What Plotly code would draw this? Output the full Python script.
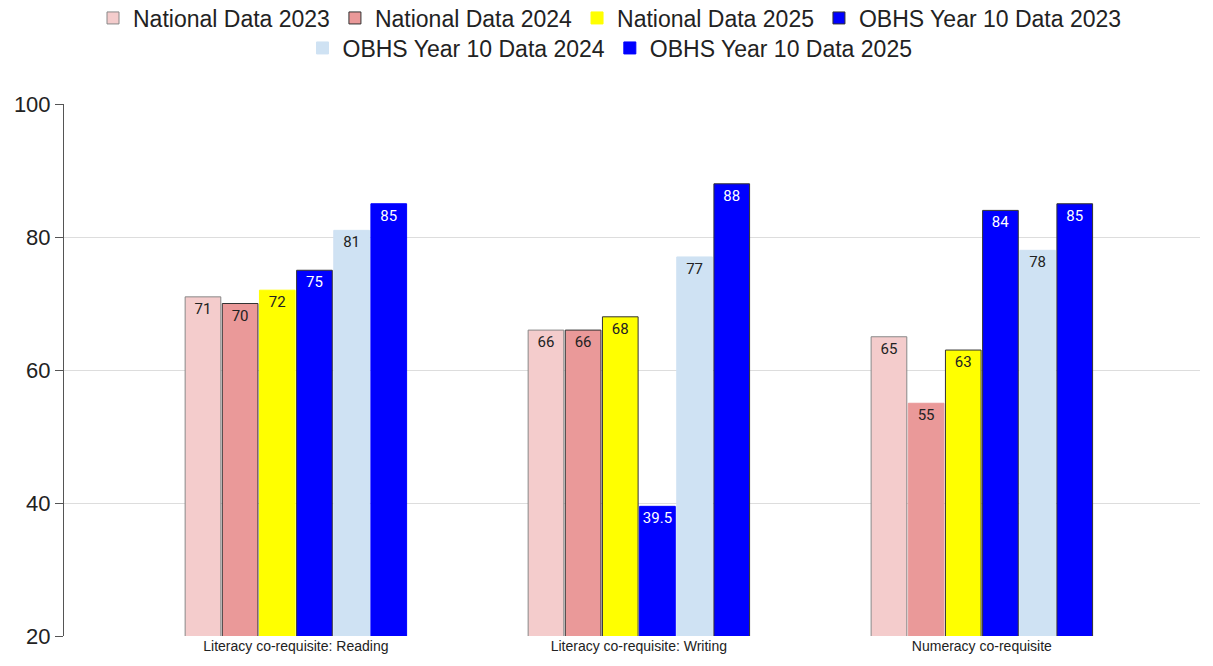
import plotly.graph_objects as go

categories = ["Literacy co-requisite: Reading", "Literacy co-requisite: Writing", "Numeracy co-requisite"]
series_names = ["National Data 2023", "National Data 2024", "National Data 2025",
                "OBHS Year 10 Data 2023", "OBHS Year 10 Data 2024", "OBHS Year 10 Data 2025"]
national_2023 = [71, 66, 65]
national_2024 = [70, 66, 55]
national_2025 = [72, 68, 63]
obhs_2023 = [75, 39.5, 84]
obhs_2024 = [81, 77, 78]
obhs_2025 = [85, 88, 85]
values = [national_2023, national_2024, national_2025, obhs_2023, obhs_2024, obhs_2025]

colors = ["#f4cccc", "#ea9999", "#ffff00", "#0000ff", "#cfe2f3", "#0000ff"]
text_colors = ["#222222", "#222222", "#222222", "#ffffff", "#222222", "#ffffff"]
line_colors = [
    ["#888888", "#888888", "#888888"],
    ["#333333", "#333333", "#ea9999"],
    ["#ffff00", "#333333", "#333333"],
    ["#333333", "#0000ff", "#333333"],
    ["#cfe2f3", "#cfe2f3", "#cfe2f3"],
    ["#0000ff", "#333333", "#333333"],
]
legend_rows = ["legend", "legend", "legend", "legend", "legend2", "legend2"]

fig = go.Figure()
for name, vals, c, tc, lc, lg in zip(series_names, values, colors, text_colors, line_colors, legend_rows):
    fig.add_trace(go.Bar(
        name=name, x=categories, y=vals, legend=lg,
        marker=dict(color=c, line=dict(color=lc, width=1)),
        text=[str(v) for v in vals], textposition="inside", insidetextanchor="end",
        textangle=0,
        textfont=dict(family="Roboto, Arial, sans-serif", size=15, color=tc),
        cliponaxis=False,
    ))

legend_style = dict(orientation="h", x=0.5, xanchor="center", yref="container", yanchor="middle",
                    xref="container",
                    font=dict(family="Liberation Sans, Arial, sans-serif", size=23, color="#222222"),
                    itemwidth=30, traceorder="normal", bgcolor="rgba(0,0,0,0)")

fig.update_layout(
    width=1213, height=666,
    barmode="group", bargap=0.35, bargroupgap=0.04,
    paper_bgcolor="white", plot_bgcolor="white",
    margin=dict(l=64, r=13, t=104, b=30),
    font=dict(family="Liberation Sans, Arial, sans-serif", color="#222222"),
    legend=dict(legend_style, x=610 / 1213, y=1 - 18 / 666),
    legend2=dict(legend_style, x=610 / 1213, y=1 - 48 / 666),
    uniformtext=dict(mode=False),
)
fig.update_xaxes(type="category", range=[-0.676, 2.636], showgrid=False, showline=False,
                 ticks="", tickfont=dict(size=14, color="#222222"))
fig.update_yaxes(range=[20, 100], dtick=20, showgrid=True, gridcolor="#dddddd", gridwidth=1,
                 showline=True, linecolor="#555555", linewidth=1, ticks="outside", ticklen=8,
                 tickcolor="#555555", tickfont=dict(size=22, color="#222222"), zeroline=False)

fig.write_html("out.html")
